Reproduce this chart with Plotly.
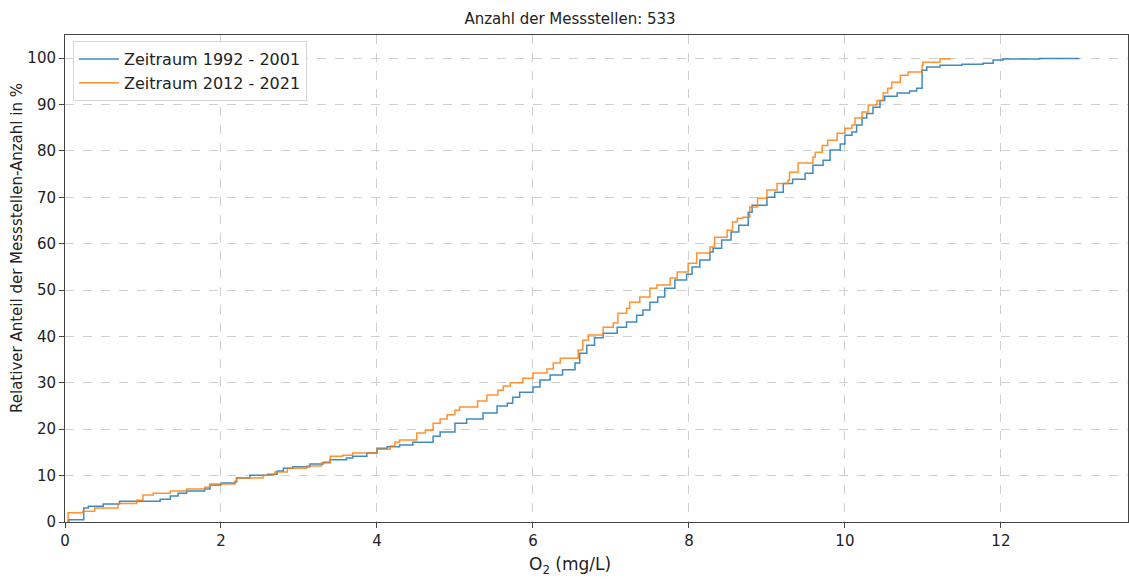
import plotly.graph_objects as go

# Zeitraum 1992 - 2001 (blue)
x_blue = [0.03, 0.05, 0.24, 0.3, 0.49, 0.7, 1.22, 1.35, 1.45, 1.56, 1.79, 1.86, 2.0, 2.18, 2.2,
          2.37, 2.6, 2.72, 2.8, 2.92, 3.14, 3.31, 3.4, 3.61, 3.69, 3.87, 4.0, 4.13, 4.29, 4.46,
          4.72, 4.81, 5.0, 5.15, 5.36, 5.54, 5.67, 5.74, 5.83, 6.0, 6.09, 6.22, 6.38, 6.54, 6.6,
          6.69, 6.79, 6.9, 7.08, 7.2, 7.33, 7.41, 7.5, 7.6, 7.69, 7.82, 7.97, 8.04, 8.14, 8.27,
          8.31, 8.42, 8.54, 8.64, 8.76, 8.81, 9.0, 9.1, 9.21, 9.33, 9.49, 9.59, 9.72, 9.81, 9.94,
          10.0, 10.09, 10.15, 10.22, 10.28, 10.36, 10.45, 10.51, 10.67, 10.83, 10.92, 10.99, 11.05,
          11.22, 11.5, 11.77, 11.9, 12.03, 12.5, 13.0]
y_blue = [0.2, 0.5, 3.0, 3.4, 3.9, 4.5, 4.9, 5.6, 6.2, 6.7, 7.1, 8.0, 8.4, 8.6, 9.5,
          10.1, 10.3, 11.0, 11.6, 11.9, 12.5, 12.9, 13.4, 13.8, 14.2, 14.9, 15.9, 16.2, 16.6, 17.2,
          18.5, 19.4, 21.3, 22.2, 23.5, 25.0, 25.6, 26.9, 28.0, 29.1, 30.6, 31.7, 32.8, 34.3, 36.4,
          38.1, 39.7, 40.7, 42.0, 43.1, 44.6, 45.7, 47.4, 48.5, 50.4, 52.2, 53.4, 55.0, 56.5, 58.2,
          59.0, 60.8, 62.5, 64.0, 66.8, 68.3, 70.0, 71.1, 73.0, 73.9, 75.2, 76.9, 78.0, 80.2, 81.5,
          83.4, 84.1, 85.6, 87.1, 88.1, 89.4, 90.9, 91.8, 92.5, 92.9, 93.5, 97.4, 98.1,
          98.5, 98.7, 98.9, 99.6, 99.8, 99.95, 100.0]

# Zeitraum 2012 - 2021 (orange)
x_orange = [0.04, 0.04, 0.23, 0.38, 0.68, 0.92, 1.0, 1.13, 1.35, 1.56, 1.79, 1.86, 2.18, 2.2,
            2.54, 2.67, 2.69, 2.85, 3.1, 3.29, 3.4, 3.56, 3.69, 4.0, 4.17, 4.23, 4.29, 4.51, 4.62,
            4.72, 4.81, 4.9, 5.0, 5.06, 5.29, 5.41, 5.55, 5.62, 5.71, 5.87, 6.0, 6.18, 6.26, 6.35,
            6.58, 6.64, 6.71, 6.9, 7.03, 7.09, 7.2, 7.24, 7.37, 7.5, 7.59, 7.76, 7.85, 7.99, 8.1,
            8.27, 8.33, 8.49, 8.56, 8.62, 8.69, 8.78, 8.88, 9.0, 9.13, 9.27, 9.29, 9.4, 9.59, 9.62,
            9.71, 9.78, 9.9, 10.0, 10.09, 10.13, 10.22, 10.3, 10.41, 10.49, 10.55, 10.6, 10.71,
            10.81, 10.99, 11.0, 11.22, 11.35]
y_orange = [0.0, 2.0, 2.3, 3.0, 4.0, 4.7, 5.8, 6.2, 6.7, 7.1, 7.5, 8.2, 8.8, 9.5,
            10.1, 10.3, 10.8, 11.6, 12.1, 12.7, 14.2, 14.4, 14.9, 15.7, 16.4, 17.2, 17.7, 19.2, 19.8,
            21.3, 22.2, 23.1, 24.1, 24.8, 26.1, 27.4, 28.4, 29.3, 30.0, 31.0, 32.1, 33.0, 34.3, 35.3,
            37.1, 39.2, 40.3, 42.0, 42.9, 45.0, 46.1, 47.4, 48.5, 50.4, 51.1, 52.6, 53.9, 55.8, 58.0,
            59.3, 61.4, 62.9, 64.7, 65.5, 65.7, 67.9, 69.8, 71.6, 73.0, 73.7, 75.4, 77.4, 78.7, 79.7,
            81.2, 82.3, 83.8, 84.9, 85.6, 87.1, 88.4, 89.9, 90.9, 92.5, 93.5, 94.8, 96.3,
            97.0, 98.5, 99.1, 99.9, 100.0]

x_ticks = [0, 2, 4, 6, 8, 10, 12]
y_ticks = [0, 10, 20, 30, 40, 50, 60, 70, 80, 90, 100]

FONT = "DejaVu Sans"
W, H = 1129, 579
ML, MR, MT, MB = 65, 1, 35, 57

fig = go.Figure()
fig.add_trace(go.Scatter(x=x_blue, y=y_blue, mode="lines", line_shape="hv",
                         name="Zeitraum 1992 - 2001",
                         line=dict(color="#1f77b4", width=1.5), opacity=0.85))
fig.add_trace(go.Scatter(x=x_orange, y=y_orange, mode="lines", line_shape="hv",
                         name="Zeitraum 2012 - 2021",
                         line=dict(color="#ff7f0e", width=1.5), opacity=0.85))

axis_common = dict(showgrid=True, gridcolor="#cfcfcf", griddash="dash", gridwidth=1,
                   showline=True, linecolor="#444", linewidth=1, mirror=True,
                   ticks="outside", ticklen=5, tickcolor="#444",
                   tickfont=dict(family=FONT, size=15, color="#222"), zeroline=False)

fig.update_xaxes(range=[0, 13.63], tickvals=x_ticks, **axis_common)
fig.update_yaxes(range=[0, 105], tickvals=y_ticks, **axis_common)

pw = W - ML - MR
ph = H - MT - MB

fig.update_layout(
    width=W, height=H,
    margin=dict(l=ML, r=MR, t=MT, b=MB, pad=0),
    plot_bgcolor="white", paper_bgcolor="white",
    font=dict(family=FONT, color="#222"),
    title=dict(text="Anzahl der Messstellen: 533", x=570 / W, xref="container", xanchor="center",
               y=1 - 19 / H, yref="container", yanchor="middle",
               font=dict(family=FONT, size=15, color="#222")),
    legend=dict(x=(73 - ML) / pw, y=1 - (41 - MT) / ph, xanchor="left", yanchor="top",
                bgcolor="rgba(255,255,255,0.85)", bordercolor="#d5d5d5", borderwidth=1,
                font=dict(family=FONT, size=16, color="#222"), itemwidth=40,
                tracegroupgap=0),
    showlegend=True,
    annotations=[
        dict(text="O<sub>2</sub> (mg/L)", xref="paper", yref="paper",
             x=(570 - ML) / pw, y=-(565 - MT - ph) / ph, xanchor="center", yanchor="middle",
             showarrow=False, font=dict(family=FONT, size=17, color="#222")),
        dict(text="Relativer Anteil der Messstellen-Anzahl in %", xref="paper", yref="paper",
             x=-(ML - 17) / pw, y=1 - (248 - MT) / ph, xanchor="center", yanchor="middle",
             textangle=-90, showarrow=False, font=dict(family=FONT, size=15, color="#222")),
    ],
)

fig.write_html("out.html")
